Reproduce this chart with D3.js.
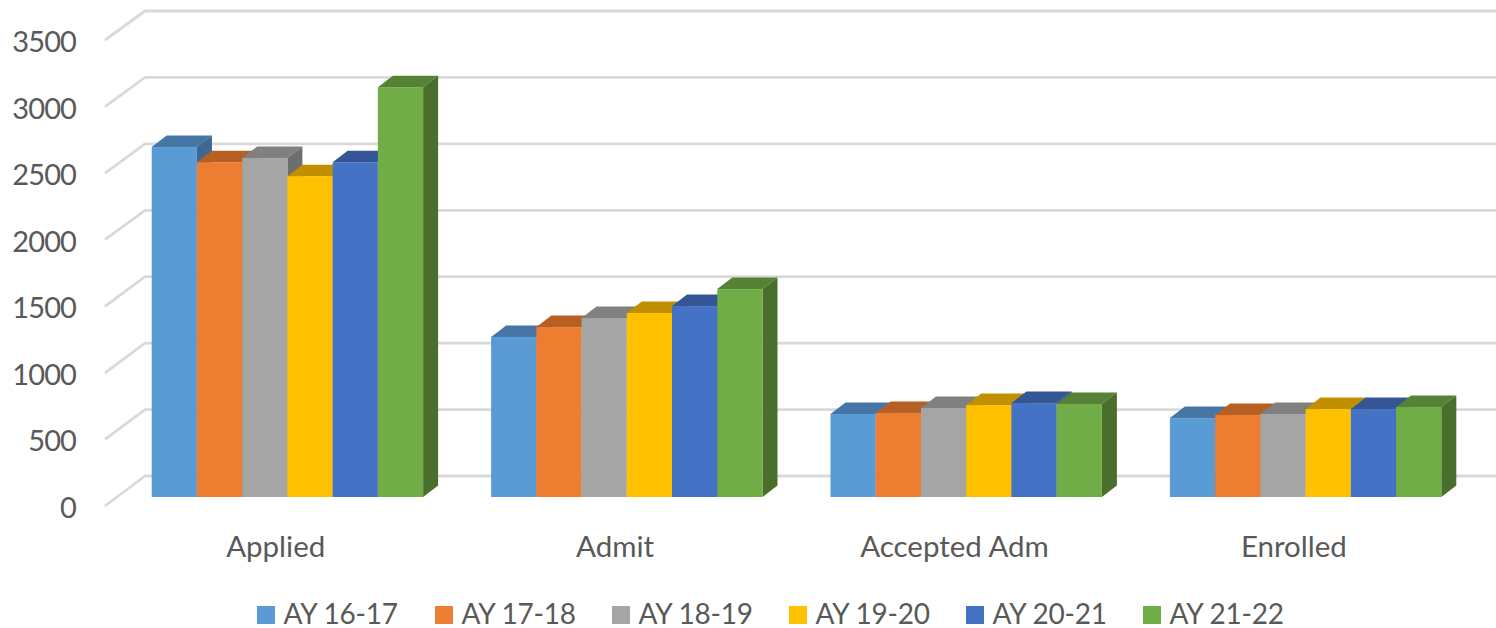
<!DOCTYPE html>
<html><head><meta charset="utf-8">
<script src="https://cdn.jsdelivr.net/npm/d3@7"></script>
<style>html,body{margin:0;padding:0;background:#fff;overflow:hidden}svg{display:block}text{font-family:Lato,"Open Sans",sans-serif;fill:#595959}</style>
</head><body><svg id="c" width="1496" height="628"></svg>
<script>
const categories=["Applied","Admit","Accepted Adm","Enrolled"];
const seriesNames=["AY 16-17","AY 17-18","AY 18-19","AY 19-20","AY 20-21","AY 21-22"];
const s1617=[2634,1204,625,594];
const s1718=[2520,1279,632,617];
const s1819=[2551,1347,670,625];
const s1920=[2415,1385,692,662];
const s2021=[2520,1437,707,662];
const s2122=[3085,1565,700,677];
const seriesValues=[s1617,s1718,s1819,s1920,s2021,s2122];
const frontColors=["#5b9bd5","#ed7d31","#a5a5a5","#ffc000","#4472c4","#70ad47"];
const topColors=["#4676a6","#b66024","#808080","#c09000","#345695","#558235"];
const sideColors=["#3d6890","#9e5420","#6e6e6e","#a67c00","#2d4b82","#4a6e2b"];
const yTicks=[0,500,1000,1500,2000,2500,3000,3500];
const legendX=[257,435,612,789,966,1143];

const svg=d3.select("#c");
const dx=15,dy=11.5;
const yBack=d3.scaleLinear().domain([0,3500]).range([476,11]);
const yFloor=d3.scaleLinear().domain([0,3500]).range([506,40]);
const yBar=d3.scaleLinear().domain([0,3500]).range([497,32]);
const x0=d3.scaleBand().domain(categories).range([117.7,1475.3]);
const x1=d3.scaleBand().domain(seriesNames).range([34,x0.bandwidth()-34]);

// gridlines (back wall + left wall)
const grid=svg.append("g").attr("fill","none").attr("stroke","#d9d9d9").attr("stroke-width",2.8).attr("stroke-linejoin","round");
yTicks.forEach(t=>{
  grid.append("path").attr("d",d3.line()([[105,yFloor(t)],[145,yBack(t)],[1496,yBack(t)]]));
});

// bars
categories.forEach((c,ci)=>{
  const g=svg.append("g");
  seriesNames.forEach((s,si)=>{
    const v=seriesValues[si][ci];
    const l=x0(c)+x1(s), r=l+x1.bandwidth(), t=yBar(v), b=yBar(0);
    g.append("path").attr("fill",topColors[si]).attr("d",d3.line()([[l,t],[l+dx,t-dy],[r+dx,t-dy],[r,t]])+"Z");
    g.append("path").attr("fill",sideColors[si]).attr("d",d3.line()([[r,t],[r+dx,t-dy],[r+dx,b-dy],[r,b]])+"Z");
    g.append("rect").attr("fill",frontColors[si]).attr("x",l).attr("y",t).attr("width",r-l).attr("height",b-t);
  });
});

// y axis labels
svg.append("g").selectAll("text").data(yTicks).join("text")
  .attr("x",76).attr("y",d=>yFloor(d)+12).attr("text-anchor","end")
  .attr("font-size",29).attr("letter-spacing",-0.9).text(d=>d);

// category labels
svg.append("g").selectAll("text").data(categories).join("text")
  .attr("x",d=>x0(d)+x0.bandwidth()/2-11.7).attr("y",557).attr("text-anchor","middle")
  .attr("font-size",29.5).text(d=>d);

// legend
const lg=svg.append("g").selectAll("g").data(seriesNames).join("g")
  .attr("transform",(d,i)=>`translate(${legendX[i]},0)`);
lg.append("rect").attr("x",0).attr("y",606).attr("width",18).attr("height",18).attr("fill",(d,i)=>frontColors[i]);
lg.append("text").attr("x",26.5).attr("y",623.5).attr("font-size",28).attr("letter-spacing",-0.2).text(d=>d);
</script></body></html>
